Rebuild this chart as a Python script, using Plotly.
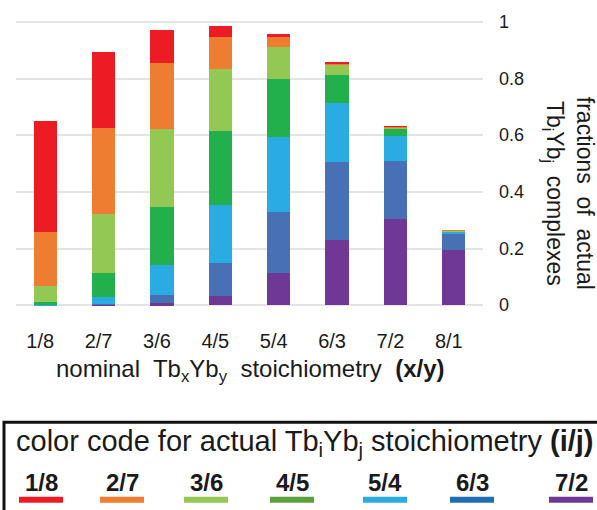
import plotly.graph_objects as go

# ---------------- data ----------------
nominal = ["1/8", "2/7", "3/6", "4/5", "5/4", "6/3", "7/2", "8/1"]

# actual Tb_iYb_j fractions for each nominal composition (stack bottom -> top)
frac_7_2 = [0.000, 0.001, 0.006, 0.034, 0.114, 0.231, 0.304, 0.194]
frac_6_3 = [0.000, 0.004, 0.031, 0.114, 0.216, 0.274, 0.204, 0.056]
frac_5_4 = [0.002, 0.024, 0.105, 0.207, 0.262, 0.207, 0.089, 0.010]
frac_4_5 = [0.008, 0.086, 0.206, 0.261, 0.208, 0.102, 0.027, 0.001]
frac_3_6 = [0.056, 0.206, 0.274, 0.216, 0.111, 0.034, 0.003, 0.001]
frac_2_7 = [0.194, 0.304, 0.232, 0.116, 0.037, 0.006, 0.003, 0.002]
frac_1_8 = [0.391, 0.268, 0.116, 0.037, 0.009, 0.003, 0.001, 0.000]

series_names = ["7/2", "6/3", "5/4", "4/5", "3/6", "2/7", "1/8"]
series_values = [frac_7_2, frac_6_3, frac_5_4, frac_4_5, frac_3_6, frac_2_7, frac_1_8]

y_ticks = [0, 0.2, 0.4, 0.6, 0.8, 1]
y_tick_text = ["0", "0.2", "0.4", "0.6", "0.8", "1"]

# legend order (left -> right)
legend_names = ["1/8", "2/7", "3/6", "4/5", "5/4", "6/3", "7/2"]

# ---------------- styles ----------------
bar_colors = {
    "1/8": "#ed1c24", "2/7": "#ef7d31", "3/6": "#92c853", "4/5": "#21b04b",
    "5/4": "#2aace2", "6/3": "#4870b5", "7/2": "#6e3894",
}
legend_colors = {
    "1/8": "#ed1c24", "2/7": "#ef7d31", "3/6": "#92c853", "4/5": "#5aa03c",
    "5/4": "#2aace2", "6/3": "#1e6db5", "7/2": "#6e3894",
}
legend_x_px = [41, 122, 206, 292, 385, 472, 571]

W, H = 597, 510
ML, MR, MT, MB = 16, 114, 17, 202
PW, PH = W - ML - MR, H - MT - MB
FONT = "Liberation Sans, Arial, sans-serif"
TXT = "#1a1a1a"


def px_x(px):
    return (px - ML) / PW


def px_y(py):
    return (H - MB - py) / PH


fig = go.Figure()
for name, vals in zip(series_names, series_values):
    fig.add_trace(go.Bar(
        x=nominal, y=vals, name=name,
        marker=dict(color=bar_colors[name], line=dict(width=0)),
        showlegend=False,
    ))

fig.update_layout(
    width=W, height=H,
    margin=dict(l=ML, r=MR, t=MT, b=MB, pad=0),
    barmode="stack", bargap=0.6,
    plot_bgcolor="white", paper_bgcolor="white",
    font=dict(family=FONT, color=TXT),
    xaxis=dict(
        type="category", range=[-0.5, 7.5], showgrid=False, showline=False,
        ticks="", tickfont=dict(size=20, color=TXT),
        ticklabelstandoff=19, ticklabelshift=-5,
    ),
    yaxis=dict(
        side="right", range=[-0.01, 1.01], tickvals=y_ticks, ticktext=y_tick_text,
        showgrid=True, gridcolor="#e4e4e4", gridwidth=1.6,
        zeroline=True, zerolinecolor="#e4e4e4", zerolinewidth=1.6,
        showline=False, ticks="", tickfont=dict(size=18, color=TXT),
        ticklabelstandoff=15,
    ),
)

annotations = [
    dict(text="nominal  Tb<sub>x</sub>Yb<sub>y</sub>  stoichiometry  <b>(x/y)</b>",
         x=px_x(250), y=px_y(371), xanchor="center", yanchor="middle",
         font=dict(size=24, color=TXT)),
    dict(text="fractions  of  actual<br>Tb<sub>i</sub>Yb<sub>j</sub>  complexes",
         x=px_x(568), y=px_y(192), xanchor="center", yanchor="middle",
         textangle=90, font=dict(size=23, color=TXT)),
    dict(text="color code for actual Tb<sub>i</sub>Yb<sub>j</sub> stoichiometry <b>(i/j)</b>",
         x=px_x(305), y=px_y(444), xanchor="center", yanchor="middle",
         font=dict(size=29, color=TXT)),
]
for name, cx in zip(legend_names, legend_x_px):
    annotations.append(dict(text=f"<b>{name}</b>", x=px_x(cx), y=px_y(484),
                            xanchor="center", yanchor="middle",
                            font=dict(size=24, color=TXT)))
for a in annotations:
    a.update(xref="paper", yref="paper", showarrow=False)
fig.update_layout(annotations=annotations)

shapes = [dict(type="rect", xref="paper", yref="paper",
               x0=px_x(4), x1=px_x(640), y0=px_y(423), y1=px_y(560),
               line=dict(color="#111111", width=3), fillcolor="rgba(0,0,0,0)")]
for name, cx in zip(legend_names, legend_x_px):
    shapes.append(dict(type="rect", xref="paper", yref="paper",
                       x0=px_x(cx - 22), x1=px_x(cx + 22),
                       y0=px_y(504), y1=px_y(498),
                       line=dict(width=0), fillcolor=legend_colors[name]))
fig.update_layout(shapes=shapes)

fig.write_html(
    "out.html",
    config={"displayModeBar": False},
    post_script="document.body.style.margin='0';document.body.style.padding='0';"
                "document.body.style.overflow='hidden';",
)
